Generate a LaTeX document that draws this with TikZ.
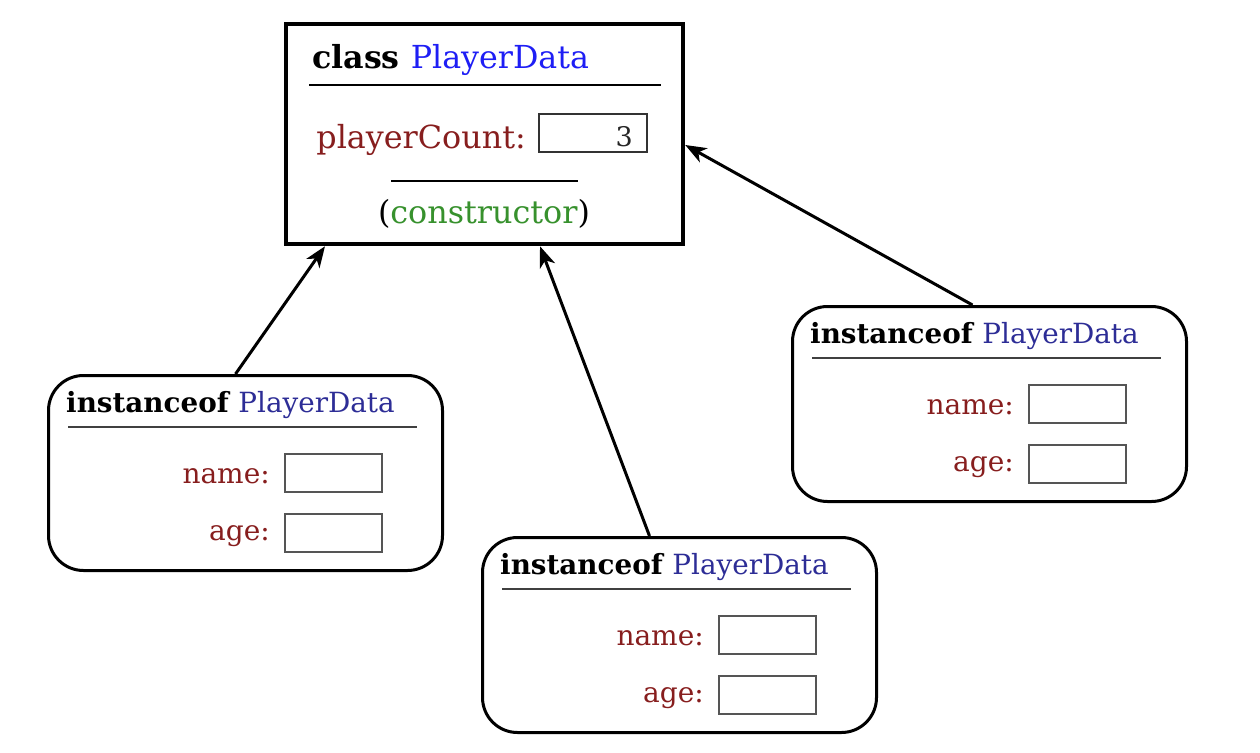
\documentclass[tikz,border=0pt]{standalone}
\usepackage{fontspec}
\setmainfont{DejaVu Serif}
\usetikzlibrary{arrows.meta}
\definecolor{clsblue}{RGB}{30,30,245}
\definecolor{instblue}{RGB}{45,45,150}
\definecolor{fieldred}{RGB}{135,30,30}
\definecolor{ctorgreen}{RGB}{55,145,45}
\definecolor{boxgray}{RGB}{85,85,85}
\tikzset{
  classbox/.style={draw=black,line width=4.5pt,minimum width=397pt,minimum height=220pt,inner sep=0pt,fill=white},
  inst/.style={draw=black,line width=3pt,rounded corners=35pt,minimum width=394pt,minimum height=195pt,inner sep=0pt},
  ctitle/.style={inner sep=0pt,font=\fontsize{31.7}{36}\selectfont},
  ititle/.style={inner sep=0pt,font=\fontsize{27.8}{32}\selectfont},
  lbl/.style={inner sep=0pt,anchor=base east,text=fieldred,font=\fontsize{28}{32}\selectfont},
  clbl/.style={inner sep=0pt,text=fieldred,font=\fontsize{31.8}{36}\selectfont},
  valbox/.style={draw=boxgray,line width=2pt,minimum width=97pt,minimum height=38pt,inner sep=0pt},
  sepline/.style={draw=black!75,line width=2pt},
  link/.style={draw=black,line width=3pt,-{Stealth[length=21pt,width=16pt,inset=6pt]}}
}
\newcommand\instbox[3]{%
  \node[inst] (#1) at (#2+198.5,#3+99) {};
  \node[ititle,anchor=base west] (#1t) at (#2+19,#3+38) {\bfseries instanceof \mdseries\textcolor{instblue}{PlayerData}};
  \draw[sepline] (#2+21,#3+53) -- (#2+370,#3+53);
  \node[lbl] (#1nl) at (#2+223,#3+109) {name:};
  \node[valbox] (#1nv) at (#2+286.5,#3+99) {};
  \node[lbl] (#1al) at (#2+223,#3+166) {age:};
  \node[valbox] (#1av) at (#2+286.5,#3+159) {};
}
\begin{document}
\begin{tikzpicture}[x=1pt,y=-1pt]
\useasboundingbox (0,0) rectangle (1260,752);
% class box
\node[classbox] (cls) at (484.5,134) {};
\node[ctitle,anchor=base west] (clst) at (312,69) {\bfseries class \mdseries\textcolor{clsblue}{PlayerData}};
\draw[line width=2pt] (309,85) -- (661,85);
\node[clbl,anchor=base east] (pcl) at (526,148) {playerCount:};
\node[draw=black!80,line width=2pt,minimum width=108pt,minimum height=38pt,inner sep=0pt] (pcv) at (593,133) {};
\node[inner sep=0pt,anchor=base east,font=\fontsize{27}{30}\selectfont,text=black!85] (pcn) at (633,146) {3};
\draw[line width=2pt] (391,181) -- (578,181);
\node[inner sep=0pt,anchor=base,font=\fontsize{31.8}{36}\selectfont] (ctor) at (484,223) {(\textcolor{ctorgreen}{constructor})};
% instances
\instbox{ia}{47}{374}
\instbox{ib}{481}{536}
\instbox{ic}{791}{305}
% links
\draw[link] ([xshift=-10pt]ia.north) -- ([xshift=-159.5pt]cls.south);
\draw[link] ([xshift=-30pt]ib.north) -- ([xshift=55.5pt]cls.south);
\draw[link] ([xshift=-17pt]ic.north) -- ([yshift=-11pt]cls.east);
\end{tikzpicture}
\end{document}
